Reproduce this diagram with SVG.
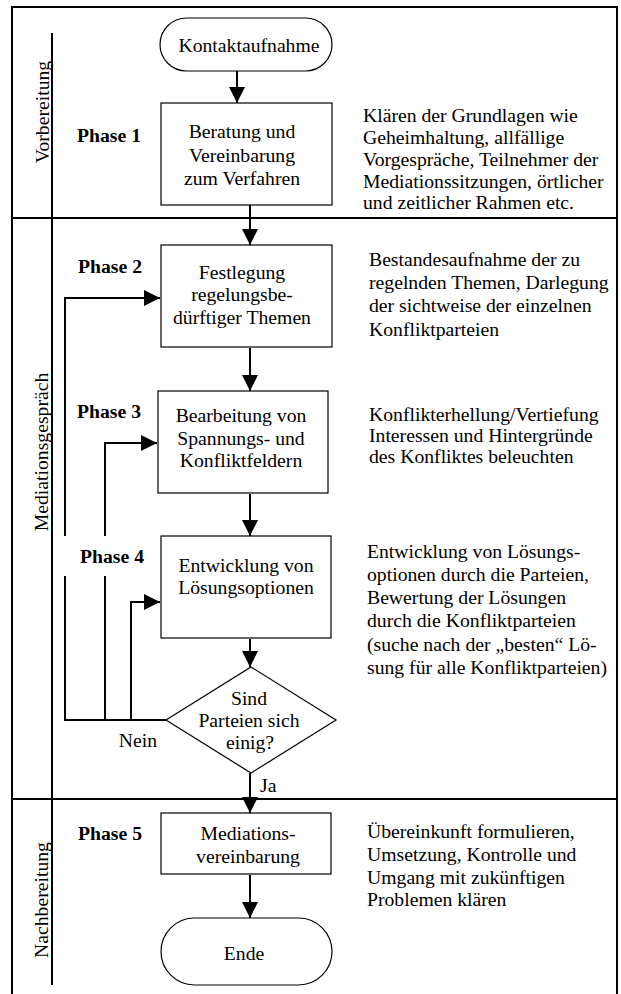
<svg xmlns="http://www.w3.org/2000/svg" width="621" height="994" viewBox="0 0 621 994" font-family="'Liberation Serif', 'Times New Roman', Times, 'DejaVu Serif', serif">
<style>
text{font-family:'Liberation Serif','Times New Roman',Times,'DejaVu Serif',serif;font-size:19.7px;fill:#000}
.b{font-weight:bold}
.m{text-anchor:middle}
.shape{fill:#fff;stroke:#000;stroke-width:1.2}
.frame{fill:none;stroke:#000;stroke-width:2}
.conn{fill:none;stroke:#000;stroke-width:2}
</style>
<defs>
<marker id="ah" markerUnits="userSpaceOnUse" markerWidth="16" markerHeight="16" refX="16" refY="8" orient="auto">
<path d="M0,0 L16,8 L0,16 z" fill="#000"/>
</marker>
</defs>
<rect width="621" height="994" fill="#fff"/>
<g id="frame">
<path class="frame" d="M12,994 V7 H617 V994"/>
<line class="frame" x1="52" y1="33" x2="52" y2="985"/>
<line class="frame" x1="12" y1="218" x2="617" y2="218"/>
<line class="frame" x1="12" y1="799" x2="617" y2="799"/>
</g>
<g id="lane-labels">
<text class="m" transform="translate(49,112) rotate(-90)">Vorbereitung</text>
<text class="m" transform="translate(48,452) rotate(-90)">Mediationsgespräch</text>
<text class="m" transform="translate(48,900) rotate(-90)">Nachbereitung</text>
</g>
<g id="connectors">
<line class="conn" x1="237" y1="71" x2="237" y2="103" marker-end="url(#ah)"/>
<line class="conn" x1="250" y1="205" x2="250" y2="245" marker-end="url(#ah)"/>
<line class="conn" x1="250" y1="348" x2="250" y2="391" marker-end="url(#ah)"/>
<line class="conn" x1="250" y1="494" x2="250" y2="536" marker-end="url(#ah)"/>
<line class="conn" x1="250" y1="639" x2="250" y2="667" marker-end="url(#ah)"/>
<line class="conn" x1="250" y1="773" x2="250" y2="813" marker-end="url(#ah)"/>
<line class="conn" x1="250" y1="875" x2="250" y2="918" marker-end="url(#ah)"/>
<path class="conn" d="M166,720 H65 V298 H160" marker-end="url(#ah)"/>
<path class="conn" d="M105,720 V443 H157" marker-end="url(#ah)"/>
<path class="conn" d="M131,720 V602 H160" marker-end="url(#ah)"/>
<text x="138" y="747" class="m">Nein</text>
<text x="260" y="792">Ja</text>
</g>
<g id="start">
<rect class="shape" x="160" y="18" width="172" height="53" rx="26.5" ry="26.5"/>
<text x="249" y="52" class="m">Kontaktaufnahme</text>
</g>
<g id="phase1">
<text x="77" y="142" class="b">Phase 1</text>
<rect class="shape" x="161" y="103" width="171" height="102"/>
<text x="242" y="138" class="m">Beratung und</text>
<text x="242" y="161.5" class="m">Vereinbarung</text>
<text x="242" y="185" class="m">zum Verfahren</text>
<text x="363" y="122">Klären der Grundlagen wie</text>
<text x="363" y="144">Geheimhaltung, allfällige</text>
<text x="363" y="166">Vorgespräche, Teilnehmer der</text>
<text x="363" y="188">Mediationssitzungen, örtlicher</text>
<text x="363" y="209">und zeitlicher Rahmen etc.</text>
</g>
<g id="phase2">
<text x="78" y="273" class="b">Phase 2</text>
<rect class="shape" x="161" y="245" width="171" height="102"/>
<text x="242" y="279" class="m">Festlegung</text>
<text x="242" y="301" class="m">regelungsbe-</text>
<text x="242" y="324" class="m">dürftiger Themen</text>
<text x="369" y="266">Bestandesaufnahme der zu</text>
<text x="369" y="289">regelnden Themen, Darlegung</text>
<text x="369" y="312">der sichtweise der einzelnen</text>
<text x="369" y="336">Konfliktparteien</text>
</g>
<g id="phase3">
<text x="77" y="418" class="b">Phase 3</text>
<rect class="shape" x="158" y="391" width="170" height="102"/>
<text x="241" y="422" class="m">Bearbeitung von</text>
<text x="241" y="445" class="m">Spannungs- und</text>
<text x="241" y="467" class="m">Konfliktfeldern</text>
<text x="369" y="421">Konflikterhellung/Vertiefung</text>
<text x="369" y="442">Interessen und Hintergründe</text>
<text x="369" y="463">des Konfliktes beleuchten</text>
</g>
<g id="phase4">
<rect x="58" y="536" width="92" height="40" fill="#fff"/>
<text x="80" y="563" class="b">Phase 4</text>
<rect class="shape" x="161" y="536" width="170" height="102"/>
<text x="246" y="572" class="m">Entwicklung von</text>
<text x="246" y="594" class="m">Lösungsoptionen</text>
<text x="367" y="558">Entwicklung von Lösungs-</text>
<text x="367" y="581">optionen durch die Parteien,</text>
<text x="367" y="604">Bewertung der Lösungen</text>
<text x="367" y="627">durch die Konfliktparteien</text>
<text x="367" y="651">(suche nach der „besten“ Lö-</text>
<text x="367" y="674">sung für alle Konfliktparteien)</text>
</g>
<g id="decision">
<polygon class="shape" points="251,667 336,720 251,773 166,720"/>
<text x="249" y="705" class="m">Sind</text>
<text x="249" y="727" class="m">Parteien sich</text>
<text x="250" y="749" class="m">einig?</text>
</g>
<g id="phase5">
<text x="78" y="840" class="b">Phase 5</text>
<rect class="shape" x="161" y="813" width="170" height="61"/>
<text x="248" y="840" class="m">Mediations-</text>
<text x="248" y="863" class="m">vereinbarung</text>
<text x="367" y="838">Übereinkunft formulieren,</text>
<text x="367" y="861">Umsetzung, Kontrolle und</text>
<text x="367" y="884">Umgang mit zukünftigen</text>
<text x="367" y="906">Problemen klären</text>
</g>
<g id="end">
<rect class="shape" x="161" y="918" width="171" height="67" rx="33.5" ry="33.5"/>
<text x="244" y="960" class="m">Ende</text>
</g>
</svg>
